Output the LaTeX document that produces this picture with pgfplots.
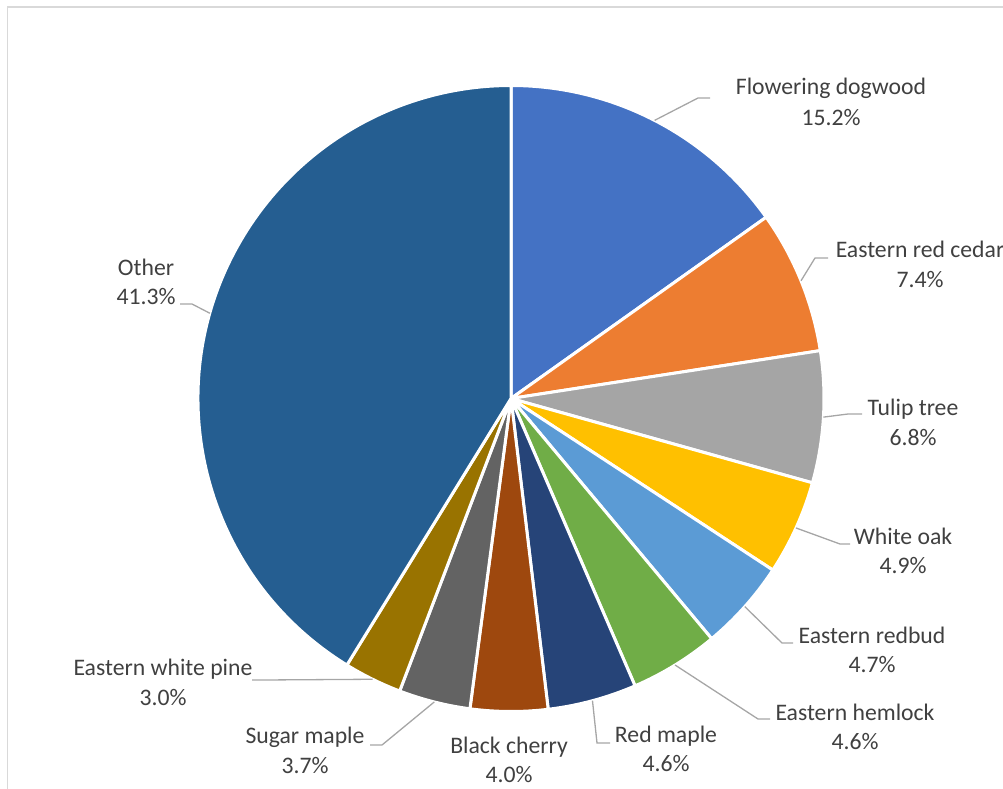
\documentclass[border=0pt]{standalone}
\usepackage{fontspec}
\setmainfont{Carlito}
\usepackage{pgfplots}
\usepackage{pgfplotstable}
\usepackage{etoolbox}
\pgfplotsset{compat=1.18}

% Office palette
\definecolor{sliceA}{HTML}{4472C4}
\definecolor{sliceB}{HTML}{ED7D31}
\definecolor{sliceC}{HTML}{A5A5A5}
\definecolor{sliceD}{HTML}{FFC000}
\definecolor{sliceE}{HTML}{5B9BD5}
\definecolor{sliceF}{HTML}{70AD47}
\definecolor{sliceG}{HTML}{264478}
\definecolor{sliceH}{HTML}{9E480E}
\definecolor{sliceI}{HTML}{636363}
\definecolor{sliceJ}{HTML}{997300}
\definecolor{sliceK}{HTML}{255E91}
\definecolor{labeltext}{HTML}{404040}
\definecolor{leader}{HTML}{A6A6A6}
\definecolor{framegray}{HTML}{D9D9D9}

\newcommand\labelfont{\fontsize{23.7}{29}\selectfont}

% share (%), slice colour, leader elbow (ex,ey) and end (hx,hy),
% label centre x and the two baselines (page coordinates, y downwards)
\pgfplotstableread[col sep=comma]{
name,value,color,ex,ey,hx,hy,lx,ya,yb
Flowering dogwood,15.2,sliceA,698,98,710,98,831,95,125
Eastern red cedar,7.4,sliceB,815,258,828,258,920,257,287
Tulip tree,6.8,sliceC,848,414,862,414,913,415,445
White oak,4.9,sliceD,840,544,850,544,903,544,573
Eastern redbud,4.7,sliceE,782,643,793,643,872,643,672
Eastern hemlock,4.6,sliceF,758,719,770,719,855,720,749
Red maple,4.6,sliceG,597,743,610,743,666,742,771
Black cherry,4.0,sliceH,-1,-1,-1,-1,509,753,782
Sugar maple,3.7,sliceI,382,745,370,745,305,743,773
Eastern white pine,3.0,sliceJ,262,680,252,680,163,675,705
Other,41.3,sliceK,192,304,180,304,146,275,304
}\pietable

% pie geometry
\def\cx{511}
\def\cy{398.5}
\def\rad{313}

\pgfplotstablegetrowsof{\pietable}
\pgfmathtruncatemacro\lastrow{\pgfplotsretval-1}

% total of all shares
\def\total{0}
\pgfplotsforeachungrouped \i in {0,...,\lastrow}{%
  \pgfplotstablegetelem{\i}{value}\of\pietable
  \pgfmathsetmacro\total{\total+\pgfplotsretval}%
}

% build slices, leader lines and labels
\def\cum{0}
\gdef\pieslices{}
\gdef\pieleaders{}
\gdef\pielabels{}
\pgfplotsforeachungrouped \i in {0,...,\lastrow}{%
  \pgfplotstablegetelem{\i}{value}\of\pietable \let\sliceval\pgfplotsretval
  \pgfplotstablegetelem{\i}{color}\of\pietable \let\slicecol\pgfplotsretval
  \pgfplotstablegetelem{\i}{name}\of\pietable \let\slicename\pgfplotsretval
  \pgfplotstablegetelem{\i}{ex}\of\pietable \let\ex\pgfplotsretval
  \pgfplotstablegetelem{\i}{ey}\of\pietable \let\ey\pgfplotsretval
  \pgfplotstablegetelem{\i}{hx}\of\pietable \let\hx\pgfplotsretval
  \pgfplotstablegetelem{\i}{hy}\of\pietable \let\hy\pgfplotsretval
  \pgfplotstablegetelem{\i}{lx}\of\pietable \let\lx\pgfplotsretval
  \pgfplotstablegetelem{\i}{ya}\of\pietable \let\ya\pgfplotsretval
  \pgfplotstablegetelem{\i}{yb}\of\pietable \let\yb\pgfplotsretval
  \pgfmathsetmacro\aone{90-360*(\cum/\total)}%
  \pgfmathsetmacro\cum{\cum+\sliceval}%
  \pgfmathsetmacro\atwo{90-360*(\cum/\total)}%
  \pgfmathsetmacro\amid{(\aone+\atwo)/2}%
  \xappto\pieslices{\noexpand\fill[\slicecol, draw=white, line width=3pt, line join=round]
    (axis cs:\cx,\cy) -- ++(\aone:\rad pt)
    arc[start angle=\aone, end angle=\atwo, radius=\rad pt] -- cycle;}%
  \ifdim\ex pt>0pt
    \xappto\pieleaders{\noexpand\draw[leader, line width=1.3pt]
      (axis cs:\cx,\cy) ++(\amid:\rad pt) -- (axis cs:\ex,\ey) -- (axis cs:\hx,\hy);}%
  \fi
  \xappto\pielabels{\noexpand\node[anchor=base, text=labeltext, font=\noexpand\labelfont, inner sep=0pt]
      at (axis cs:\lx,\ya) {\slicename};
    \noexpand\node[anchor=base, text=labeltext, font=\noexpand\labelfont, inner sep=0pt]
      at (axis cs:\lx,\yb) {\sliceval\noexpand\%};}%
}

\begin{document}
\begin{tikzpicture}
\useasboundingbox (0,0) rectangle (1003pt,789pt);
\clip (0,0) rectangle (1003pt,789pt);
\begin{axis}[
  at={(0,0)}, anchor=south west,
  width=1003pt, height=789pt, scale only axis,
  xmin=0, xmax=1003, ymin=0, ymax=789, y dir=reverse,
  hide axis, clip=false,
]
\draw[framegray, line width=1.5pt] (axis cs:7.5,800) -- (axis cs:7.5,7) -- (axis cs:1010,7);
\pieslices
\pieleaders
\pielabels
\end{axis}
\end{tikzpicture}
\end{document}
